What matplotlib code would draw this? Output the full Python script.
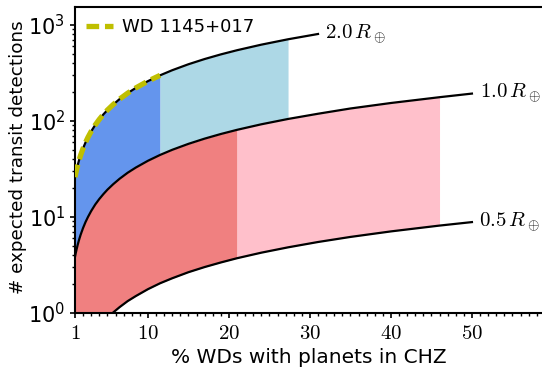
import matplotlib
matplotlib.use("Agg")
import matplotlib.pyplot as plt
from matplotlib.ticker import FixedLocator, MultipleLocator, FuncFormatter
import numpy as np

plt.rcParams['font.family'] = ['DejaVu Sans']
plt.rcParams['mathtext.fontset'] = 'cm'

# common x grid (% WDs with planets in CHZ)
x = [1, 1.1, 1.2, 1.35, 1.5, 1.7, 2, 2.3, 2.6, 3, 3.5, 4, 4.5, 5, 5.7, 6.5, 7.5, 8.5, 10,
     11.5, 13, 15, 17, 19, 21, 24, 27.3, 31, 35, 40, 46, 50]
# expected transit detections for each planet radius
n_2p0 = [26, 28.6, 31.2, 35.1, 39, 44.2, 52, 59.8, 67.6, 78, 91, 104, 117, 130, 148, 169,
         195, 221, 260, 299, 338, 390, 442, 494, 546, 624, 710, 806]
n_1p0 = [3.85, 4.24, 4.62, 5.2, 5.78, 6.55, 7.7, 8.86, 10.0, 11.55, 13.5, 15.4, 17.3, 19.25,
         21.9, 25.0, 28.9, 32.7, 38.5, 44.3, 50.1, 57.8, 65.5, 73.2, 80.9, 92.4, 105, 119,
         135, 154, 177, 193]
n_0p5 = [0.177, 0.195, 0.212, 0.239, 0.266, 0.301, 0.354, 0.407, 0.46, 0.531, 0.62, 0.708,
         0.797, 0.885, 1.01, 1.15, 1.33, 1.5, 1.77, 2.04, 2.3, 2.66, 3.01, 3.36, 3.72, 4.25,
         4.83, 5.49, 6.2, 7.08, 8.14, 8.85]
# WD 1145+017 based estimate
wd_x = [1, 1.1, 1.2, 1.35, 1.5, 1.7, 2, 2.3, 2.6, 3, 3.5, 4, 4.5, 5, 5.7, 6.5, 7.5, 8.5,
        10, 11.5]
wd_n = [26, 28.6, 31.2, 35.1, 39, 44.2, 52, 59.8, 67.6, 78, 91, 104, 117, 130, 148, 169,
        195, 221, 260, 299]

curve_labels = [r'$2.0\,R_\oplus$', r'$1.0\,R_\oplus$', r'$0.5\,R_\oplus$']
xticks = [1, 10, 20, 30, 40, 50]

# shaded ranges
blue_lo, blue_hi = 1, 11.5
lblue_lo, lblue_hi = 11.5, 27.3
red_lo, red_hi = 1, 21
pink_lo, pink_hi = 21, 46

xa = np.array(x)
a2 = np.array(n_2p0)
a1 = np.array(n_1p0)
a05 = np.array(n_0p5)
x2 = xa[:len(a2)]

fig = plt.figure(figsize=(5.42, 3.74), dpi=100)
ax = fig.add_axes([75/542, 61/374, 467/542, 306/374])

m = (x2 >= blue_lo) & (x2 <= blue_hi)
ax.fill_between(x2[m], a1[:len(a2)][m], a2[m], color='cornflowerblue', lw=0)
m = (x2 >= lblue_lo) & (x2 <= lblue_hi)
ax.fill_between(x2[m], a1[:len(a2)][m], a2[m], color='lightblue', lw=0)
m = (xa >= red_lo) & (xa <= red_hi)
ax.fill_between(xa[m], a05[m], a1[m], color='lightcoral', lw=0)
m = (xa >= pink_lo) & (xa <= pink_hi)
ax.fill_between(xa[m], a05[m], a1[m], color='pink', lw=0)

ax.plot(x2, a2, color='k', lw=1.6)
ax.plot(xa, a1, color='k', lw=1.6)
ax.plot(xa, a05, color='k', lw=1.6)
ax.plot(wd_x, wd_n, color='y', ls=(0, (2.4, 1.1)), lw=3.8, label='WD 1145+017', zorder=5)

ax.text(x2[-1] + 0.9, a2[-1], curve_labels[0], fontsize=15, va='center', ha='left')
ax.text(xa[-1] + 1.0, a1[-1], curve_labels[1], fontsize=15, va='center', ha='left')
ax.text(xa[-1] + 0.9, a05[-1], curve_labels[2], fontsize=15, va='center', ha='left')

ax.set_yscale('log')
ax.set_xlim(1, 58.65)
ax.set_ylim(1, 1540)
ax.xaxis.set_major_locator(FixedLocator(xticks))
ax.xaxis.set_minor_locator(MultipleLocator(1))
ax.xaxis.set_major_formatter(FuncFormatter(lambda v, p: r'$%d$' % v))
ax.tick_params(labelsize=15, width=1.2)
ax.tick_params(which='minor', width=1.0)
for s in ['left', 'bottom', 'top']:
    ax.spines[s].set_linewidth(1.5)
ax.spines['right'].set_visible(False)

ax.set_xlabel('% WDs with planets in CHZ', fontsize=14.5)
ax.set_ylabel('# expected transit detections', fontsize=13.2)
ax.yaxis.set_label_coords(-0.102, 0.51)
ax.legend(loc='upper left', frameon=False, fontsize=13, handlelength=1.5,
          handletextpad=0.5, borderaxespad=0.3, borderpad=0.3)

fig.savefig('out.png', dpi=100)
